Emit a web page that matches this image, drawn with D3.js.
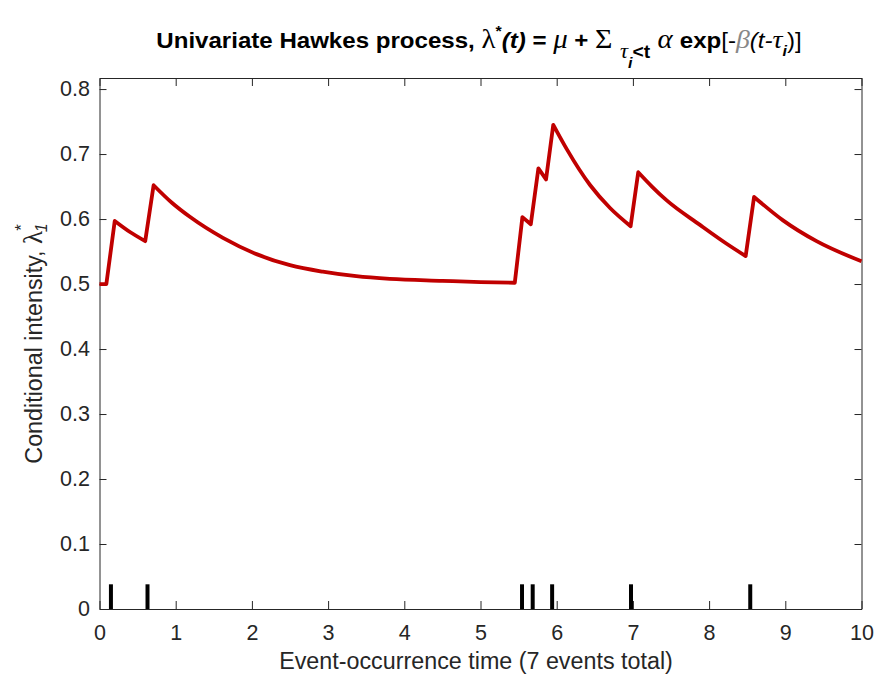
<!DOCTYPE html>
<html>
<head>
<meta charset="utf-8">
<script src="https://cdn.jsdelivr.net/npm/d3@7"></script>
<style>
    body { margin: 0; background: #fff; }
    text { font-family: "Liberation Sans", Arial, sans-serif; }
</style>
</head>
<body>
<div id="chart"></div>
<script>
// event times (tau_i)
const eventTimes = [0.15, 0.63, 5.545, 5.685, 5.94, 6.975, 8.54];
const eventMarkHeight = 0.038;

// intensity curve, read piece by piece (each piece ends right before a jump)
const piece0 = [[0, 0.5], [0.09, 0.5]];
const piece1 = [[0.2, 0.597], [0.4, 0.58], [0.6, 0.566]];
const piece2 = [[0.71, 0.652], [0.95, 0.625], [1.19, 0.603], [1.62, 0.571], [2.06, 0.546], [2.5, 0.529],
    [2.93, 0.519], [3.37, 0.512], [3.81, 0.508], [4.5, 0.505], [5.0, 0.503], [5.45, 0.502]];
const piece3 = [[5.55, 0.603], [5.66, 0.592]];
const piece4 = [[5.76, 0.678], [5.86, 0.661]];
const piece5 = [[5.955, 0.745], [6.13, 0.708], [6.44, 0.652], [6.70, 0.617], [6.97, 0.589]];
const piece6 = [[7.07, 0.672], [7.25, 0.65], [7.44, 0.629], [7.88, 0.591], [8.23, 0.562], [8.48, 0.543]];
const piece7 = [[8.59, 0.634], [8.97, 0.598], [9.41, 0.566], [10, 0.535]];
const pieces = [piece0, piece1, piece2, piece3, piece4, piece5, piece6, piece7];

const xTicks = [0, 1, 2, 3, 4, 5, 6, 7, 8, 9, 10];
const yTicks = [0, 0.1, 0.2, 0.3, 0.4, 0.5, 0.6, 0.7, 0.8];

const width = 874,
    height = 677;
const margin = {top: 78, right: 12.5, bottom: 68, left: 99.5};
const axisColor = '#262626';
const serif = '"Liberation Serif", "DejaVu Serif", serif';

const svg = d3.select('#chart').append('svg')
    .attr('width', width)
    .attr('height', height);

const xScale = d3.scaleLinear()
    .domain([0, 10])
    .range([margin.left, width - margin.right]);

const yScale = d3.scaleLinear()
    .domain([0, 0.817])
    .range([height - margin.bottom, margin.top]);

function styleAxis(g) {
    g.select('.domain').attr('stroke', axisColor).attr('stroke-width', 1);
    g.selectAll('.tick line').attr('stroke', axisColor).attr('stroke-width', 1);
    g.selectAll('.tick text')
        .attr('fill', axisColor)
        .style('font-size', '21.5px')
        .style('font-family', '"Liberation Sans", Arial, sans-serif');
}

// MATLAB-like box, ticks pointing in on all four sides
const gX = svg.append('g')
    .attr('transform', `translate(0,${height - margin.bottom})`)
    .call(d3.axisBottom(xScale).tickValues(xTicks).tickFormat(d3.format('d'))
        .tickSize(-8).tickSizeOuter(0).tickPadding(16));
styleAxis(gX);

const gXTop = svg.append('g')
    .attr('transform', `translate(0,${margin.top})`)
    .call(d3.axisTop(xScale).tickValues(xTicks).tickFormat('')
        .tickSize(-8).tickSizeOuter(0));
styleAxis(gXTop);

const gY = svg.append('g')
    .attr('transform', `translate(${margin.left},0)`)
    .call(d3.axisLeft(yScale).tickValues(yTicks).tickFormat(d => d === 0 ? '0' : d3.format('.1f')(d))
        .tickSize(-7).tickSizeOuter(0).tickPadding(9.5));
styleAxis(gY);

const gYRight = svg.append('g')
    .attr('transform', `translate(${width - margin.right},0)`)
    .call(d3.axisRight(yScale).tickValues(yTicks).tickFormat('')
        .tickSize(-7).tickSizeOuter(0));
styleAxis(gYRight);

// event marks
svg.append('g')
    .selectAll('line')
    .data(eventTimes)
    .enter()
    .append('line')
    .attr('x1', d => xScale(d))
    .attr('x2', d => xScale(d))
    .attr('y1', yScale(0))
    .attr('y2', yScale(eventMarkHeight))
    .attr('stroke', '#000')
    .attr('stroke-width', 4);

// intensity: smooth decay inside a piece, straight jumps between pieces
const pieceLine = d3.line()
    .x(d => xScale(d[0]))
    .y(d => yScale(d[1]))
    .curve(d3.curveMonotoneX);

const pathD = pieces.map((p, i) => {
    const d = pieceLine(p);
    return i === 0 ? d : 'L' + d.slice(1);
}).join('');

svg.append('path')
    .attr('d', pathD)
    .attr('fill', 'none')
    .attr('stroke', '#c00000')
    .attr('stroke-width', 3.8)
    .attr('stroke-linejoin', 'round');

// x axis title
svg.append('text')
    .attr('x', 476)
    .attr('y', 669)
    .attr('text-anchor', 'middle')
    .attr('fill', axisColor)
    .style('font-size', '23.3px')
    .text('Event-occurrence time (7 events total)');

// y axis title
const yLabel = svg.append('text')
    .attr('transform', `translate(42,${(margin.top + height - margin.bottom) / 2}) rotate(-90)`)
    .attr('text-anchor', 'middle')
    .attr('fill', axisColor)
    .style('font-size', '23.3px');
yLabel.append('tspan').text('Conditional intensity, ');
yLabel.append('tspan').style('font-family', serif).style('font-size', '27px').text('λ');
yLabel.append('tspan').attr('dy', -15).style('font-size', '17px').text('*');
yLabel.append('tspan').attr('dx', -8).attr('dy', 20).style('font-size', '16px')
    .style('font-style', 'italic').text('1');

// title with the formula (source picture is a bit wider than tall, hence the x stretch)
const title = svg.append('text')
    .attr('transform', 'translate(479,48) scale(1.07,1)')
    .attr('text-anchor', 'middle')
    .attr('fill', '#000')
    .style('font-size', '22.5px')
    .style('font-weight', 'bold');
title.append('tspan').text('Univariate Hawkes process, ');
title.append('tspan').style('font-family', serif).style('font-weight', 'normal')
    .style('font-size', '27px').text('λ');
title.append('tspan').attr('dy', -12).style('font-size', '15px').text('*');
title.append('tspan').attr('dy', 12).style('font-style', 'italic').text('(t)');
title.append('tspan').text(' = ');
title.append('tspan').style('font-family', serif).style('font-weight', 'normal')
    .style('font-style', 'italic').style('font-size', '27px').text('μ');
title.append('tspan').text(' +  ');
title.append('tspan').style('font-family', serif).style('font-weight', 'normal')
    .style('font-size', '28px').text('Σ ');
title.append('tspan').attr('dy', 10).style('font-family', serif).style('font-weight', 'normal')
    .style('font-style', 'italic').style('font-size', '21px').text('τ');
title.append('tspan').attr('dy', 10).style('font-size', '15px').style('font-style', 'italic').text('i');
title.append('tspan').attr('dy', -10).style('font-size', '18px').text('<t');
title.append('tspan').attr('dy', -10).style('font-family', serif).style('font-weight', 'normal')
    .style('font-style', 'italic').style('font-size', '27px').text(' α ');
title.append('tspan').text('exp');
title.append('tspan').style('font-weight', 'normal').text('[-');
title.append('tspan').style('font-family', serif).style('font-weight', 'normal')
    .style('font-style', 'italic').style('font-size', '26px').attr('fill', '#888').text('β');
title.append('tspan').style('font-weight', 'normal').style('font-style', 'italic').text('(t-');
title.append('tspan').style('font-family', serif).style('font-weight', 'normal')
    .style('font-style', 'italic').style('font-size', '26px').text('τ');
title.append('tspan').attr('dy', 8).style('font-size', '15px').style('font-style', 'italic').text('i');
title.append('tspan').attr('dy', -8).style('font-weight', 'normal').text(')]');
</script>
</body>
</html>
